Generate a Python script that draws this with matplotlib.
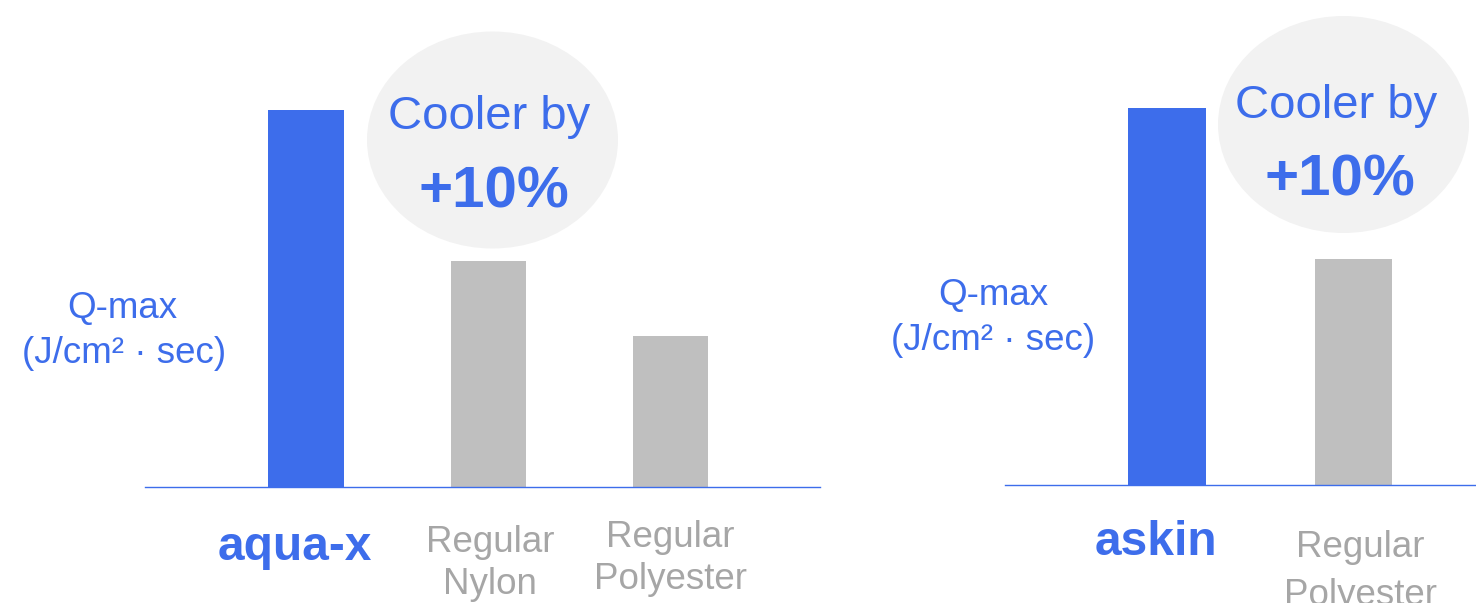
import matplotlib.pyplot as plt
from matplotlib.patches import Ellipse

plt.rcParams['font.family'] = ['Liberation Sans', 'DejaVu Sans']

# data: Q-max, relative heights
left_labels = ['aqua-x', 'Regular\nNylon', 'Regular\nPolyester']
left_values = [100, 60, 40]
right_labels = ['askin', 'Regular\nPolyester']
right_values = [100, 60]
badge_top = 'Cooler by'
badge_value = '+10%'
unit_lines = ['Q-max', '(J/cm\u00b2 \u00b7 sec)']

blue = '#3d6deb'
bar_gray = '#bfbfbf'
text_gray = '#a6a6a6'
badge_fill = '#f2f2f2'

W, H = 1476, 603
fig = plt.figure(figsize=(W / 100, H / 100), dpi=100)


def px_axes(x0, x1, base):
    # axes from pixel x0..x1, from the top of the figure down to the baseline
    return fig.add_axes([x0 / W, (H - base) / H, (x1 - x0) / W, base / H])


def panel(ax, labels, values, xlim, base, label_dx, label_dy, line_gap):
    colors = [blue] + [bar_gray] * (len(values) - 1)
    ax.bar(range(len(values)), values, width=0.415, color=colors, zorder=2)
    ax.set_xlim(*xlim)
    ax.set_ylim(0, values[0] * base / 377)
    for s in ['top', 'right', 'left']:
        ax.spines[s].set_visible(False)
    ax.spines['bottom'].set_color(blue)
    ax.spines['bottom'].set_linewidth(1.0)
    ax.set_xticks([])
    ax.set_yticks([])
    ax.patch.set_alpha(0)

    for i, lab in enumerate(labels):
        for j, line in enumerate(lab.split('\n')):
            if i == 0:
                style = dict(fontsize=34.5, fontweight='bold', color=blue)
            else:
                style = dict(fontsize=26.5, color=text_gray)
            ax.annotate(line, xy=(i, 0), xycoords=('data', 'axes fraction'),
                        xytext=(label_dx[i], -(label_dy[i] + j * line_gap)),
                        textcoords='offset pixels', ha='center', va='baseline',
                        annotation_clip=False, **style)


def badge(cx, cy, ew, eh, top_xy, value_xy):
    fig.patches.append(Ellipse((cx / W, 1 - cy / H), ew / W, eh / H,
                               transform=fig.transFigure, facecolor=badge_fill,
                               edgecolor='none', zorder=1))
    fig.text(top_xy[0] / W, 1 - top_xy[1] / H, badge_top, ha='center',
             va='baseline', fontsize=34, color=blue, zorder=3)
    fig.text(value_xy[0] / W, 1 - value_xy[1] / H, badge_value, ha='center',
             va='baseline', fontsize=42, fontweight='bold', color=blue, zorder=3)


def unit_label(pos1, pos2):
    for (x, y), line in zip([pos1, pos2], unit_lines):
        fig.text(x / W, 1 - y / H, line, ha='center', va='baseline',
                 fontsize=26.5, color=blue)


ax1 = px_axes(145, 820, 487)
panel(ax1, left_labels, left_values, (-0.885, 2.82), 487,
      label_dx=[-11, 2, 0], label_dy=[73, 65, 60], line_gap=42)
badge(492.5, 140, 251, 217, (489, 129), (494, 207))
unit_label((122, 318), (124, 363))

ax2 = px_axes(1005, 1476, 485)
panel(ax2, right_labels, right_values, (-0.87, 1.66), 485,
      label_dx=[-11, 7], label_dy=[70, 72], line_gap=48)
badge(1343.5, 124.5, 251, 217, (1336, 118), (1340, 195))
unit_label((993, 305), (993, 350))

fig.savefig('out.png', dpi=100)
